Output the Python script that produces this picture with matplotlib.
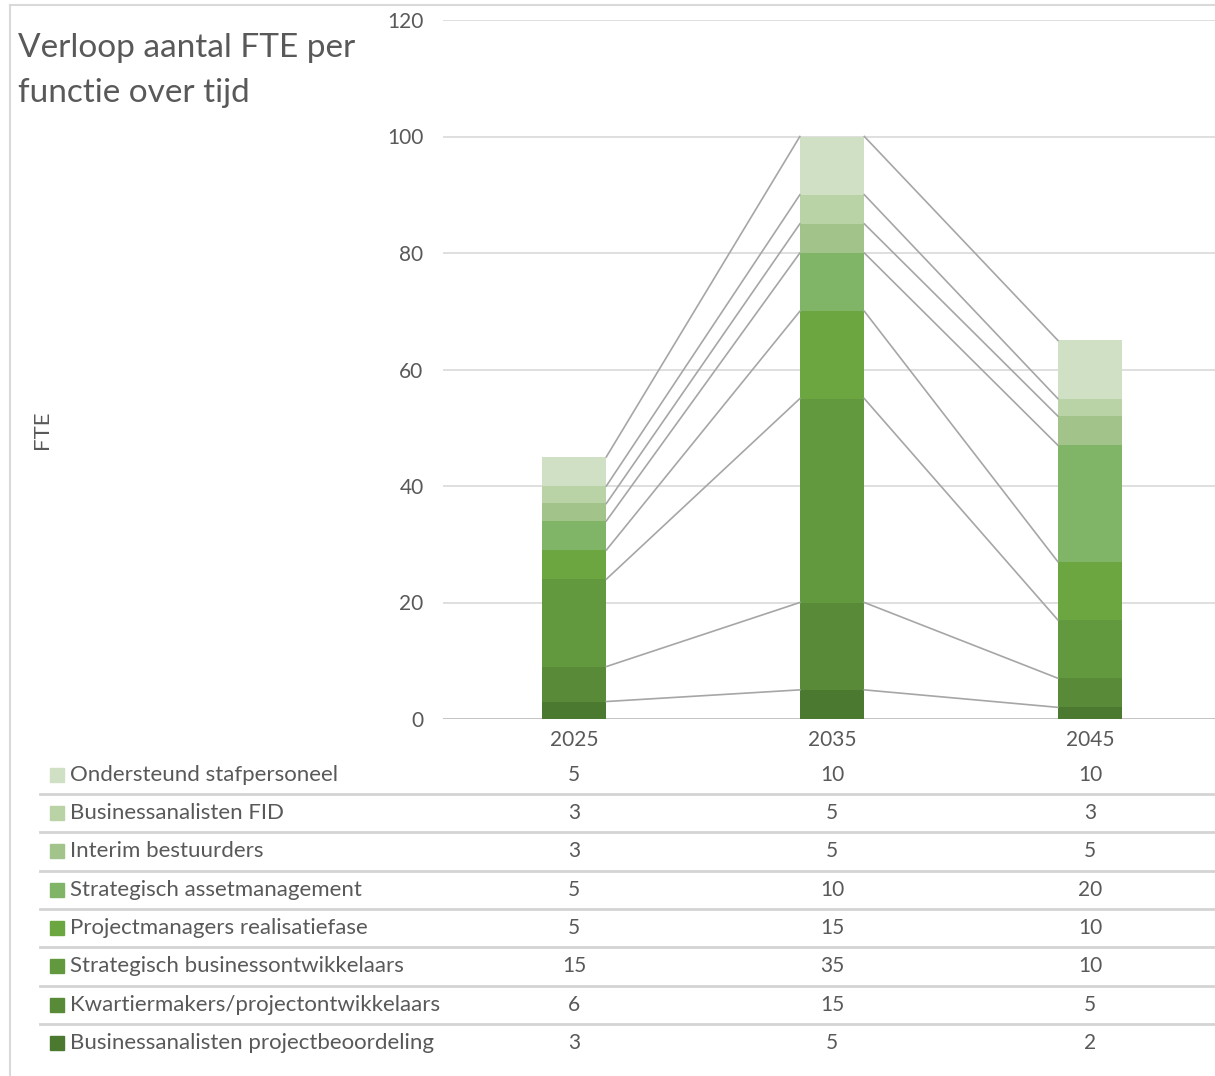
import numpy as np
import matplotlib.pyplot as plt
from matplotlib.transforms import blended_transform_factory
from matplotlib.patches import Rectangle
from matplotlib.lines import Line2D

plt.rcParams['font.family'] = ['Lato', 'DejaVu Sans']

# data (onderste laag eerst)
jaren = ['2025', '2035', '2045']
functies = [
    'Businessanalisten projectbeoordeling',
    'Kwartiermakers/projectontwikkelaars',
    'Strategisch businessontwikkelaars',
    'Projectmanagers realisatiefase',
    'Strategisch assetmanagement',
    'Interim bestuurders',
    'Businessanalisten FID',
    'Ondersteund stafpersoneel',
]
projectbeoordeling = [3, 5, 2]
kwartiermakers = [6, 15, 5]
businessontwikkelaars = [15, 35, 10]
projectmanagers = [5, 15, 10]
assetmanagement = [5, 10, 20]
interim = [3, 5, 5]
fid = [3, 5, 3]
stafpersoneel = [5, 10, 10]
kleuren = ['#4b792f', '#588a37', '#63993e', '#6ba641', '#80b466',
           '#a2c48b', '#b9d3a7', '#d0e0c4']

reeksen = [projectbeoordeling, kwartiermakers, businessontwikkelaars,
           projectmanagers, assetmanagement, interim, fid, stafpersoneel]

tekst = '#595959'
W, H = 1215, 1076
fig = plt.figure(figsize=(W / 100, H / 100), dpi=100)

# assen in pixels
x0, x1, yb, yt = 443, 1215, 719, 20
ax = fig.add_axes([x0 / W, (H - yb) / H, (x1 - x0) / W, (yb - yt) / H])
ax.set_xlim(-0.508, 2.484)
ax.set_ylim(0, 120)
ax.set_yticks(np.arange(0, 121, 20))
ax.grid(axis='y', color='#d9d9d9', lw=1.2)
ax.set_axisbelow(True)
for s in ax.spines.values():
    s.set_visible(False)
ax.axhline(0, color='#bfbfbf', lw=1.2, zorder=1)
ax.tick_params(axis='y', length=0, pad=14, labelsize=15, labelcolor=tekst)
ax.set_xticks(range(len(jaren)))
ax.set_xticklabels(jaren)
ax.tick_params(axis='x', length=0, pad=8, labelsize=15, labelcolor=tekst)

x = np.arange(len(jaren))
breedte = 0.25
onder = np.zeros(len(jaren))
for waarden, kleur in zip(reeksen, kleuren):
    ax.bar(x, waarden, breedte, bottom=onder, color=kleur, zorder=2)
    onder = onder + np.array(waarden)
    # reekslijnen tussen de kolommen
    for i in range(len(jaren) - 1):
        ax.plot([x[i] + breedte / 2, x[i + 1] - breedte / 2],
                [onder[i], onder[i + 1]], color='#a6a6a6', lw=1.2, zorder=3)

for regel, yb_titel in [('Verloop aantal FTE per', 57), ('functie over tijd', 102)]:
    fig.text(18 / W, 1 - yb_titel / H, regel, fontsize=24, color=tekst, va='baseline')
fig.text(42 / W, 1 - 430 / H, 'FTE', rotation=90, fontsize=16, color=tekst,
         ha='center', va='center')

# gegevenstabel
trans = blended_transform_factory(ax.transData, fig.transFigure)
rij_y = [775, 813, 851, 890, 928, 966, 1005, 1043]
for r, (naam, waarden, kleur) in enumerate(zip(functies[::-1], reeksen[::-1], kleuren[::-1])):
    y = 1 - rij_y[r] / H
    fig.patches.append(Rectangle((50 / W, y - 7 / H), 14 / W, 14 / H,
                                 color=kleur, transform=fig.transFigure))
    fig.text(70 / W, y, naam, fontsize=16, color=tekst, va='center')
    for i, v in enumerate(waarden):
        ax.text(x[i], y, str(v), transform=trans, fontsize=15, color=tekst,
                ha='center', va='center', clip_on=False)
    if r < len(rij_y) - 1:
        ys = 1 - (rij_y[r] + rij_y[r + 1]) / 2 / H
        fig.lines.append(Line2D([40 / W, 1], [ys, ys], color='#d4d4d4', lw=2,
                                transform=fig.transFigure))

# kaderrand
fig.lines.append(Line2D([10 / W, 10 / W], [0, 1 - 5 / H], color='#d9d9d9', lw=1.5,
                        transform=fig.transFigure))
fig.lines.append(Line2D([10 / W, 1], [1 - 5 / H, 1 - 5 / H], color='#d9d9d9', lw=1.5,
                        transform=fig.transFigure))

fig.savefig('out.png', dpi=100)
